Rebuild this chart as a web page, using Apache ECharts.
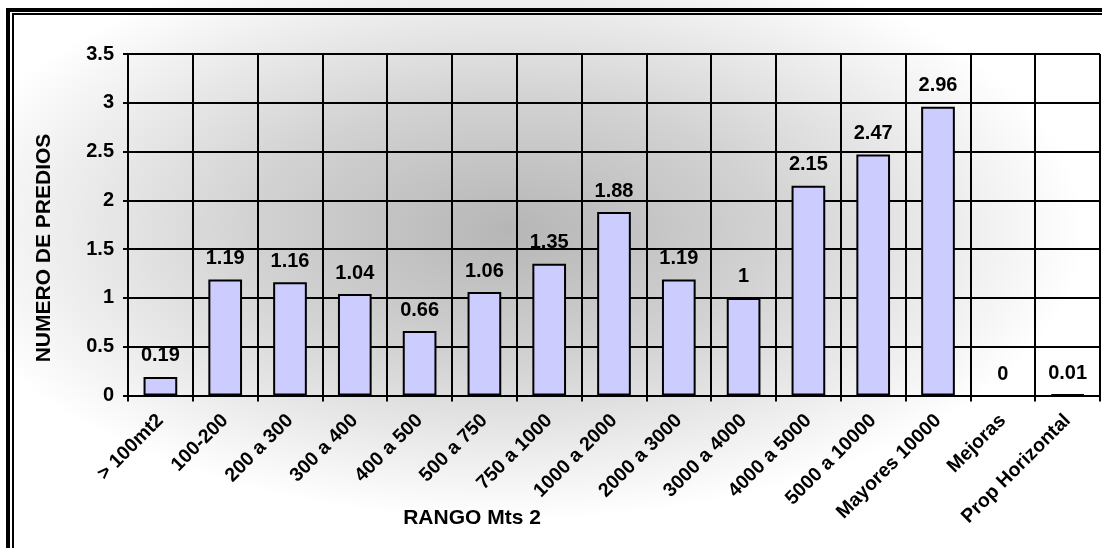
<!DOCTYPE html>
<html>
<head>
<meta charset="utf-8">
<script src="https://cdn.jsdelivr.net/npm/echarts@6/dist/echarts.min.js"></script>
<style>
html,body{margin:0;padding:0;background:#fff;}
#chart{width:1102px;height:548px;}
</style>
</head>
<body>
<div id="chart"></div>
<script>
const categories = ['> 100mt2','100-200','200 a 300','300 a 400','400 a 500','500 a 750','750 a 1000','1000 a 2000','2000 a 3000','3000 a 4000','4000 a 5000','5000 a 10000','Mayores 10000','Mejoras','Prop Horizontal'];
const values = [0.19, 1.19, 1.16, 1.04, 0.66, 1.06, 1.35, 1.88, 1.19, 1, 2.15, 2.47, 2.96, 0, 0.01];
const yTitle = 'NUMERO DE PREDIOS';
const xTitle = 'RANGO Mts 2';

const FONT = '"Liberation Sans", Arial, sans-serif';
const chart = echarts.init(document.getElementById('chart'), null, {renderer:'canvas'});
chart.setOption({
  backgroundColor: '#ffffff',
  animation: false,
  textStyle: {fontFamily: FONT},
  graphic: [
    {
      type: 'rect', z: -100, silent: true,
      x: 510, y: 230, scaleX: 1.15, scaleY: 0.58,
      shape: {x: -500, y: -500, width: 1000, height: 1000},
      style: {fill: {type: 'radial', x: 0.5, y: 0.5, r: 0.5, colorStops: [
        {offset: 0, color: '#b6b6b6'},
        {offset: 0.45, color: '#d2d2d2'},
        {offset: 1, color: '#ffffff'}
      ]}}
    },
    {
      type: 'rect', z: 100, silent: true,
      shape: {x: 8, y: 10, width: 1120, height: 570},
      style: {fill: 'none', stroke: '#000', lineWidth: 4}
    },
    {
      type: 'rect', z: 100, silent: true,
      shape: {x: 13, y: 14, width: 1110, height: 560},
      style: {fill: 'none', stroke: '#000', lineWidth: 2}
    },
    {
      type: 'text', z: 100, silent: true,
      x: 44, y: 248, rotation: Math.PI / 2,
      style: {text: yTitle, font: 'bold 21px ' + FONT, fill: '#000', align: 'center', verticalAlign: 'middle'}
    },
    {
      type: 'text', z: 100, silent: true,
      x: 472, y: 518,
      style: {text: xTitle, font: 'bold 21px ' + FONT, fill: '#000', align: 'center', verticalAlign: 'middle'}
    }
  ],
  grid: {left: 128, right: 2, top: 54, bottom: 152.5, containLabel: false},
  xAxis: {
    type: 'category',
    data: categories,
    boundaryGap: true,
    axisLine: {show: true, lineStyle: {color: '#000', width: 2}},
    axisTick: {show: true, length: 6, alignWithLabel: false, lineStyle: {color: '#000', width: 2}},
    axisLabel: {rotate: 45, interval: 0, margin: 22, color: '#000', fontWeight: 'bold', fontSize: 19.5, fontFamily: FONT},
    splitLine: {show: true, interval: 0, lineStyle: {color: '#000', width: 2}}
  },
  yAxis: {
    type: 'value',
    min: 0, max: 3.5, interval: 0.5,
    axisLine: {show: true, lineStyle: {color: '#000', width: 2}},
    axisTick: {show: true, length: 5, lineStyle: {color: '#000', width: 2}},
    axisLabel: {margin: 14, color: '#000', fontWeight: 'bold', fontSize: 20, fontFamily: FONT},
    splitLine: {show: true, lineStyle: {color: '#000', width: 2}}
  },
  series: [{
    type: 'bar',
    data: values.map(v => v === 0 ? {value: v, itemStyle: {borderWidth: 0}} : v),
    barWidth: '52%',
    itemStyle: {color: '#ccccff', borderColor: '#000', borderWidth: 2},
    label: {show: true, position: 'top', distance: 11, color: '#000', fontWeight: 'bold', fontSize: 20, fontFamily: FONT}
  }]
});
</script>
</body>
</html>
